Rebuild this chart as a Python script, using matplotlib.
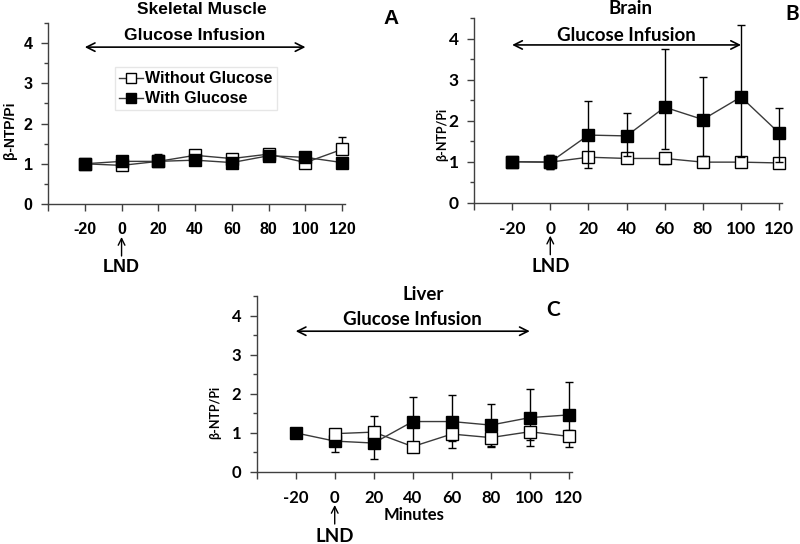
import matplotlib
matplotlib.use("Agg")
import matplotlib.pyplot as plt
from matplotlib.ticker import MultipleLocator, FixedLocator
from matplotlib.lines import Line2D
from matplotlib.font_manager import FontProperties
import numpy as np

# ---------------- data ----------------
minutes = [-20, 0, 20, 40, 60, 80, 100, 120]
tick_labels = ["-20", "0", "20", "40", "60", "80", "100", "120"]

# Skeletal muscle (A)
muscle_without = [1.00, 0.96, 1.06, 1.21, 1.13, 1.24, 1.03, 1.36]
muscle_without_up = [0.00, 0.05, 0.18, 0.07, 0.05, 0.06, 0.05, 0.30]
muscle_without_lo = [0.00, 0.03, 0.05, 0.05, 0.05, 0.05, 0.04, 0.05]
muscle_with = [1.00, 1.06, 1.06, 1.09, 1.03, 1.20, 1.16, 1.03]
muscle_with_up = [0.00, 0.03, 0.05, 0.05, 0.05, 0.08, 0.05, 0.03]
muscle_with_lo = [0.00, 0.03, 0.05, 0.05, 0.05, 0.05, 0.05, 0.03]

# Brain (B)
brain_without = [1.00, 0.99, 1.11, 1.08, 1.08, 0.99, 0.99, 0.97]
brain_without_up = [0.00, 0.17, 0.10, 0.10, 0.10, 0.05, 0.05, 0.05]
brain_without_lo = [0.00, 0.17, 0.10, 0.10, 0.14, 0.05, 0.05, 0.05]
brain_with = [1.00, 0.99, 1.65, 1.63, 2.33, 2.03, 2.58, 1.70]
brain_with_up = [0.00, 0.17, 0.83, 0.55, 1.43, 1.04, 1.75, 0.60]
brain_with_lo = [0.00, 0.17, 0.81, 0.50, 1.03, 0.88, 1.46, 0.70]

# Liver (C)  (open series has no -20 point)
liver_without = [np.nan, 0.98, 1.02, 0.65, 0.97, 0.88, 1.03, 0.91]
liver_without_up = [0.00, 0.13, 0.40, 0.10, 0.05, 0.05, 0.05, 0.16]
liver_without_lo = [0.00, 0.05, 0.05, 0.05, 0.35, 0.24, 0.37, 0.27]
liver_with = [1.00, 0.79, 0.74, 1.29, 1.29, 1.20, 1.39, 1.46]
liver_with_up = [0.00, 0.05, 0.05, 0.63, 0.68, 0.55, 0.73, 0.83]
liver_with_lo = [0.00, 0.29, 0.41, 0.55, 0.50, 0.54, 0.57, 0.60]

legend_labels = ["Without Glucose", "With Glucose"]

# ---------------- drawing ----------------
fig = plt.figure(figsize=(8, 5.44), dpi=100)

AX_COL = "#404040"
LINE_COL = "#3a3a3a"


def panel(rect, title, letter, letter_xy, title_xy, font,
          wo, wo_up, wo_lo, wi, wi_up, wi_lo,
          infusion_text_y, arrow_y, ylab_xy, ylab_fs,
          open_on_top=False, legend=False,
          xlabel=None, tick_fs=10, txt_fs=11, lnd_fs=13):
    ax = fig.add_axes(rect)
    fp = dict(family=[font, "DejaVu Sans"], weight="bold")
    z_open, z_fill = (4, 3) if open_on_top else (3, 4)
    ax.errorbar(minutes, wo, yerr=[wo_lo, wo_up], fmt="s-", color=LINE_COL,
                mfc="white", mec="black", mew=1.0, ms=8.5, lw=1.0,
                ecolor="black", elinewidth=1.0, capsize=3, capthick=1.0,
                zorder=z_open, clip_on=False)
    ax.errorbar(minutes, wi, yerr=[wi_lo, wi_up], fmt="s-", color=LINE_COL,
                mfc="black", mec="black", mew=1.0, ms=8.5, lw=1.0,
                ecolor="black", elinewidth=1.0, capsize=3, capthick=1.0,
                zorder=z_fill, clip_on=False)
    ax.set_xlim(-40, 121.5)
    ax.set_ylim(0, 4.5)
    for s in ("top", "right"):
        ax.spines[s].set_visible(False)
    for s in ("left", "bottom"):
        ax.spines[s].set_color(AX_COL)
        ax.spines[s].set_linewidth(1.0)
    ax.xaxis.set_major_locator(FixedLocator([-40] + minutes))
    ax.set_xticklabels([""] + tick_labels)
    ax.yaxis.set_major_locator(FixedLocator([0, 1, 2, 3, 4]))
    ax.yaxis.set_minor_locator(MultipleLocator(0.5))
    ax.tick_params(axis="both", which="both", direction="out", color=AX_COL,
                   width=1.0)
    ax.tick_params(axis="x", length=5, pad=8)
    ax.tick_params(axis="y", which="major", length=5, pad=6)
    ax.tick_params(axis="y", which="minor", length=3)
    tfp = FontProperties(family=[font, "DejaVu Sans"], weight="bold",
                         size=tick_fs)
    for lab in ax.get_xticklabels() + ax.get_yticklabels():
        lab.set_fontproperties(tfp)
    ax.set_ylabel("\u03b2-NTP/Pi", fontsize=ylab_fs, **fp)
    ax.yaxis.set_label_coords(*ylab_xy)
    if xlabel:
        ax.set_xlabel(xlabel, fontsize=12, labelpad=1, **fp)

    # titles / panel letter (figure pixel coords)
    fig.text(title_xy[0] / 800, 1 - title_xy[1] / 544, title, ha="center",
             va="center", fontsize=txt_fs, **fp)
    fig.text(letter_xy[0] / 800, 1 - letter_xy[1] / 544, letter, ha="center",
             va="center", fontsize=15, **fp)

    # infusion arrow
    ax.annotate("", xy=(-20, arrow_y), xytext=(100, arrow_y),
                arrowprops=dict(arrowstyle="<->", color="black", lw=1.2,
                                mutation_scale=15, shrinkA=0, shrinkB=0))
    ax.text(40, infusion_text_y, "Glucose Infusion", ha="center", va="center",
            fontsize=txt_fs, **fp)

    # LND arrow below 0 tick
    h = rect[3] * 544
    ax.annotate("", xy=(0, -33 / h), xycoords=("data", "axes fraction"),
                xytext=(0, -52 / h), textcoords=("data", "axes fraction"),
                arrowprops=dict(arrowstyle="->", color="black", lw=1.0,
                                shrinkA=0, shrinkB=0, mutation_scale=12))
    ax.text(0, -64 / h, "LND", transform=ax.get_xaxis_transform(),
            ha="center", va="center", fontsize=lnd_fs, **fp)

    if legend:
        handles = [
            Line2D([], [], color=LINE_COL, lw=1.0, marker="s", ms=7,
                   mfc="white", mec="black"),
            Line2D([], [], color=LINE_COL, lw=1.0, marker="s", ms=7,
                   mfc="black", mec="black"),
        ]
        ax.legend(handles, legend_labels, loc="upper left",
                  bbox_to_anchor=(0.225, 0.755), frameon=True, fancybox=False,
                  edgecolor="#e6e6e6", framealpha=1, handlelength=1.5,
                  handletextpad=0.15, borderpad=0.25, labelspacing=0.3,
                  borderaxespad=0,
                  prop=dict(family=[font, "DejaVu Sans"], weight="bold",
                            size=11.5))
    return ax


panel([48 / 800, 1 - 204 / 544, 297 / 800, 181 / 544],
      "Skeletal Muscle", "A", (391, 18), (202, 9), "Liberation Sans",
      muscle_without, muscle_without_up, muscle_without_lo,
      muscle_with, muscle_with_up, muscle_with_lo,
      infusion_text_y=4.2, arrow_y=3.9, ylab_xy=(-0.105, 0.41), ylab_fs=10,
      open_on_top=False, legend=True,
      tick_fs=11.5, txt_fs=12.5, lnd_fs=13)

panel([474 / 800, 1 - 202.7 / 544, 308 / 800, 184.4 / 544],
      "Brain", "B", (792, 14), (630, 8), "Lato",
      brain_without, brain_without_up, brain_without_lo,
      brain_with, brain_with_up, brain_with_lo,
      infusion_text_y=4.08, arrow_y=3.85, ylab_xy=(-0.085, 0.37), ylab_fs=9,
      open_on_top=False, tick_fs=12.5, txt_fs=13.5, lnd_fs=13.5)

panel([256.7 / 800, 1 - 472 / 544, 315 / 800, 176 / 544],
      "Liver", "C", (553, 310), (423, 295), "Lato",
      liver_without, liver_without_up, liver_without_lo,
      liver_with, liver_with_up, liver_with_lo,
      infusion_text_y=3.9, arrow_y=3.6, ylab_xy=(-0.114, 0.34), ylab_fs=9,
      open_on_top=True, xlabel="Minutes", tick_fs=12, txt_fs=13.5,
      lnd_fs=13.5)

fig.savefig("out.png", dpi=100)
